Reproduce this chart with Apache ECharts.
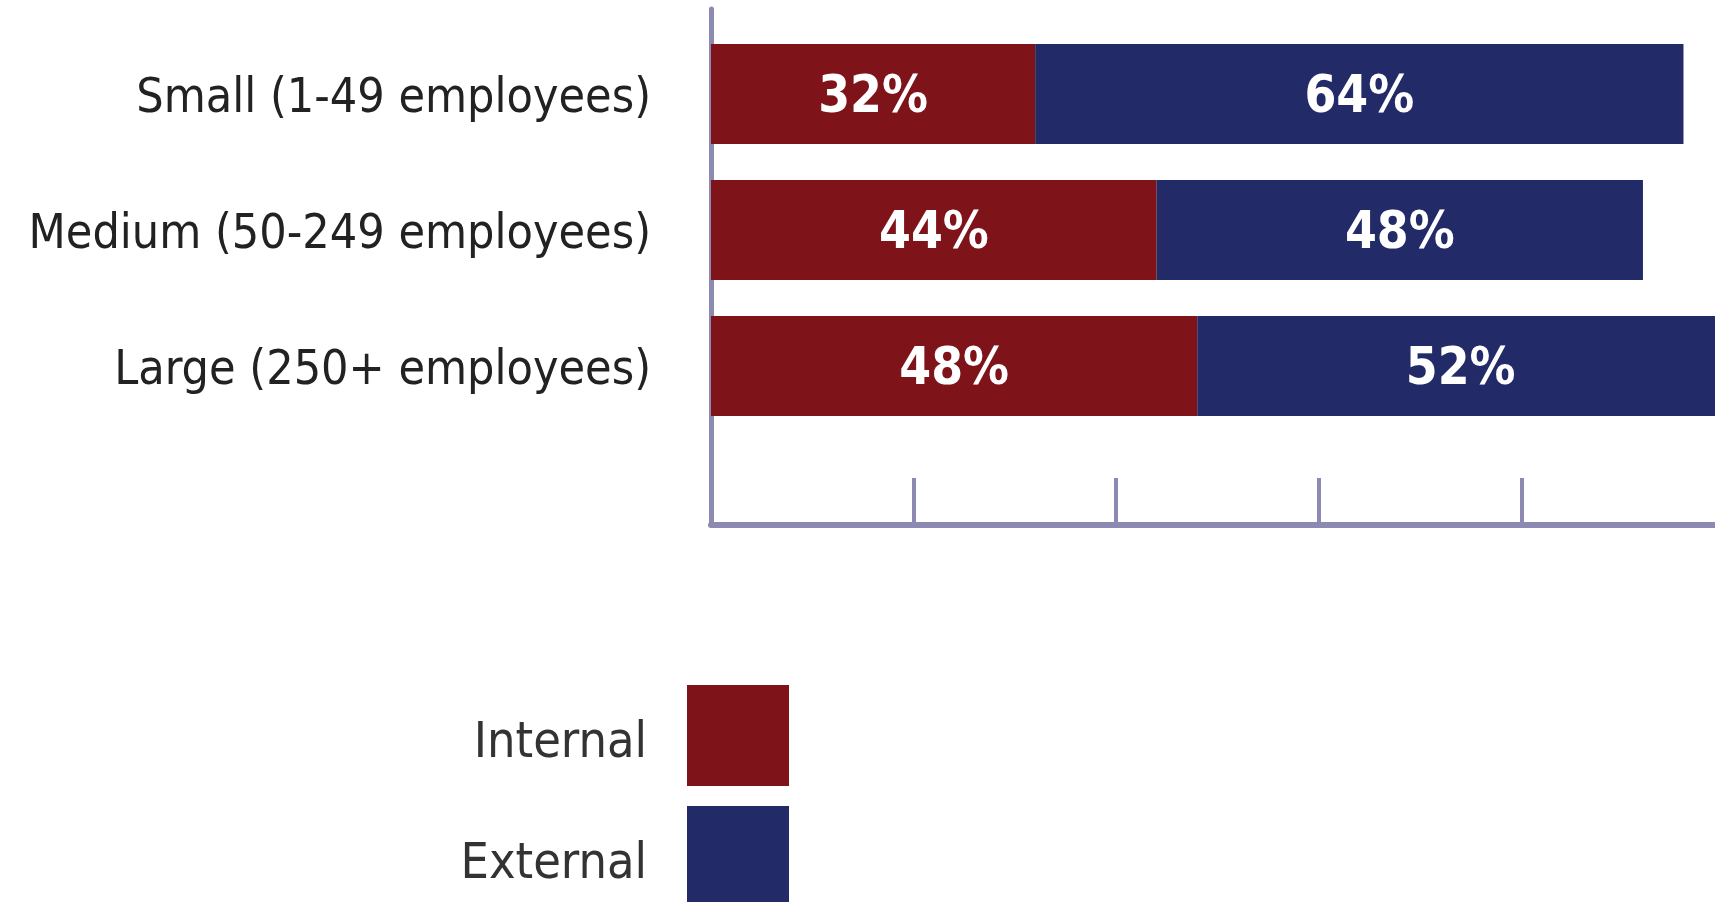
<!DOCTYPE html>
<html>
<head>
<meta charset="utf-8">
<script src="https://cdn.jsdelivr.net/npm/echarts@6/dist/echarts.min.js"></script>
<style>
html,body{margin:0;padding:0;background:#fff;}
#chart{width:1715px;height:902px;}
</style>
</head>
<body>
<div id="chart"></div>
<script>
const categories = ['Small (1-49 employees)', 'Medium (50-249 employees)', 'Large (250+ employees)'];
const internalValues = [32, 44, 48];
const externalValues = [64, 48, 52];
const seriesNames = ['Internal', 'External'];
const axisTicks = [0, 20, 40, 60, 80, 100];

const FONT = '"DejaVu Sans Condensed", "DejaVu Sans", sans-serif';
const RED = '#7e1419';
const NAVY = '#222b68';
const AXIS = '#8c89b3';

const barLabel = {
  show: true, position: 'inside', formatter: '{c}%', offset: [0, 5],
  color: '#ffffff', fontFamily: FONT, fontWeight: 'bold', fontSize: 51
};

const chart = echarts.init(document.getElementById('chart'));
chart.setOption({
  backgroundColor: '#ffffff',
  animation: false,
  grid: [
    { left: 711, width: 1013, top: 26, height: 408, containLabel: false, outerBoundsMode: 'none' },
    { left: 711, width: 1013, top: 9, height: 516, containLabel: false, outerBoundsMode: 'none' }
  ],
  xAxis: [
    { gridIndex: 0, type: 'value', min: axisTicks[0], max: axisTicks[axisTicks.length - 1], show: false },
    {
      gridIndex: 1, type: 'value', min: axisTicks[0], max: axisTicks[axisTicks.length - 1], interval: 20,
      axisLine: { show: true, onZero: false, lineStyle: { color: AXIS, width: 6 } },
      axisTick: { show: true, inside: true, length: 47, lineStyle: { color: AXIS, width: 4 } },
      axisLabel: { show: false },
      splitLine: { show: false }
    }
  ],
  yAxis: [
    {
      gridIndex: 0, type: 'category', data: categories, inverse: true,
      axisLine: { show: false }, axisTick: { show: false },
      axisLabel: {
        margin: 60, fontFamily: FONT, fontSize: 48, color: '#222222', lineHeight: 12,
        formatter: function (v) { return '\n' + v; }
      }
    },
    {
      gridIndex: 1, type: 'value', min: 0, max: 1,
      axisLine: { show: true, onZero: false, lineStyle: { color: AXIS, width: 5 } },
      axisTick: { show: false }, axisLabel: { show: false }, splitLine: { show: false }
    }
  ],
  legend: {
    orient: 'vertical', align: 'right', right: 921, top: 680, height: 300,
    itemWidth: 102, itemHeight: 101, itemGap: 20,
    icon: 'rect',
    data: seriesNames,
    formatter: function (n) { return '\n' + n; },
    textStyle: { fontFamily: FONT, fontSize: 50, color: '#333333', lineHeight: 18, padding: [0, 35, 0, 0] }
  },
  series: [
    {
      name: seriesNames[0], type: 'bar', stack: 'total', xAxisIndex: 0, yAxisIndex: 0,
      data: internalValues, barWidth: 100, itemStyle: { color: RED }, z: 3, label: barLabel
    },
    {
      name: seriesNames[1], type: 'bar', stack: 'total', xAxisIndex: 0, yAxisIndex: 0,
      data: externalValues, barWidth: 100, itemStyle: { color: NAVY }, z: 3, label: barLabel
    }
  ]
});
</script>
</body>
</html>
